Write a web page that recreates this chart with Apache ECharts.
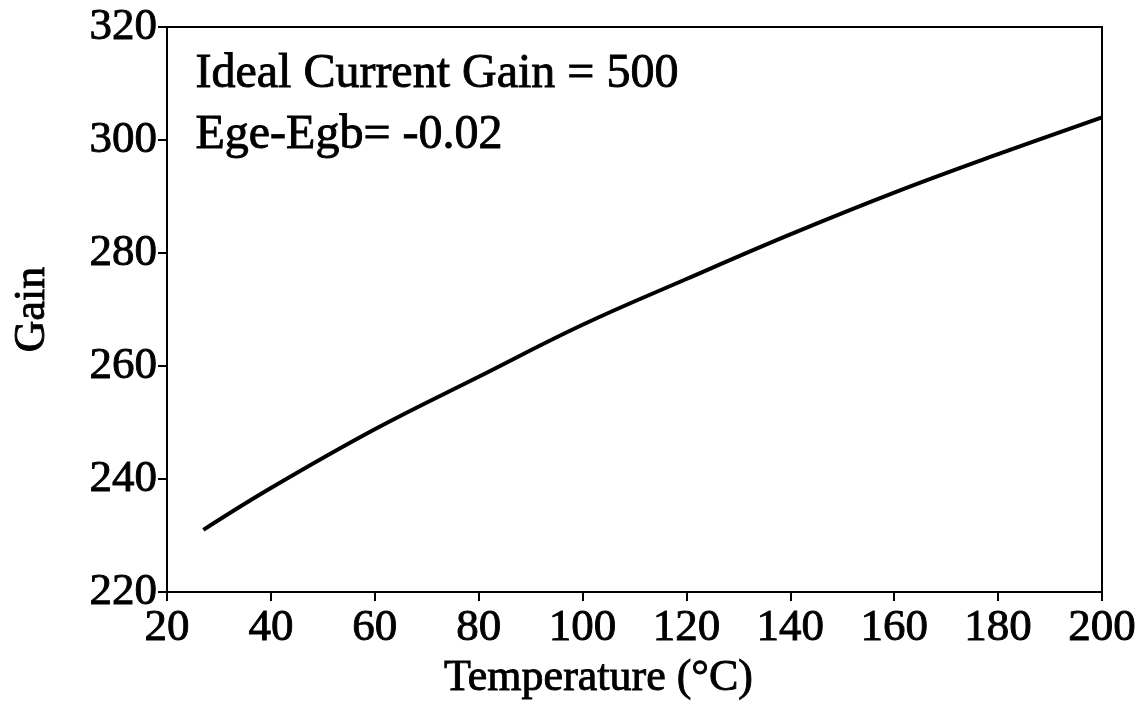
<!DOCTYPE html>
<html>
<head>
<meta charset="utf-8">
<script src="https://cdn.jsdelivr.net/npm/echarts@6/dist/echarts.min.js"></script>
<style>
  html, body { margin: 0; padding: 0; background: #fff; }
  #chart { width: 1140px; height: 717px; }
</style>
</head>
<body>
<div id="chart"></div>
<script>
// Transistor current gain versus temperature
const temperatures = [27, 40, 60, 80, 100, 120, 140, 160, 180, 200];
const gains = [231, 238.4, 248.8, 258.1, 267.3, 275.4, 283.3, 290.7, 297.5, 304];
const xTicks = [20, 40, 60, 80, 100, 120, 140, 160, 180, 200];
const yTicks = [220, 240, 260, 280, 300, 320];
const notes = ['Ideal Current Gain = 500', 'Ege-Egb= -0.02'];
const xTitle = 'Temperature (\u00B0C)';
const yTitle = 'Gain';

const FONT = '"Liberation Serif", "Times New Roman", serif';
const points = temperatures.map((t, i) => [t, gains[i]]);

// a thin outline of the same colour gives the serif text a heavier stroke
const heavy = { textBorderColor: '#000', textBorderWidth: 0.9 };

const chart = echarts.init(document.getElementById('chart'));
chart.setOption({
  backgroundColor: '#ffffff',
  animation: false,
  grid: {
    left: 167, right: 38, top: 27, bottom: 125,
    show: true, borderColor: '#000', borderWidth: 2, backgroundColor: 'transparent'
  },
  xAxis: {
    type: 'value',
    min: xTicks[0], max: xTicks[xTicks.length - 1], interval: 20,
    name: xTitle,
    nameLocation: 'middle',
    nameGap: 56,
    nameTextStyle: Object.assign({ fontFamily: FONT, fontSize: 44, color: '#000', padding: [0, 72, 0, 0] }, heavy),
    axisLine: { show: true, lineStyle: { color: '#000', width: 2 } },
    axisTick: { show: true, length: 9, inside: false, lineStyle: { color: '#000', width: 2 } },
    axisLabel: Object.assign({ fontFamily: FONT, fontSize: 45, color: '#000', margin: 14 }, heavy),
    splitLine: { show: false }
  },
  yAxis: {
    type: 'value',
    min: yTicks[0], max: yTicks[yTicks.length - 1], interval: 20,
    name: yTitle,
    nameLocation: 'middle',
    nameGap: 113,
    nameTextStyle: Object.assign({ fontFamily: FONT, fontSize: 44, color: '#000' }, heavy),
    axisLine: { show: true, lineStyle: { color: '#000', width: 2 } },
    axisTick: { show: true, length: 9, inside: false, lineStyle: { color: '#000', width: 2 } },
    axisLabel: Object.assign({ fontFamily: FONT, fontSize: 45, color: '#000', margin: 10 }, heavy),
    splitLine: { show: false }
  },
  graphic: notes.map((txt, i) => ({
    type: 'text',
    left: 195,
    top: 50 + i * 61,
    style: { text: txt, font: '48px ' + FONT, fill: '#000', stroke: '#000', lineWidth: 0.9 }
  })),
  series: [{
    type: 'line',
    data: points,
    smooth: 0.4,
    symbol: 'none',
    lineStyle: { color: '#000', width: 4 }
  }]
});
</script>
</body>
</html>
